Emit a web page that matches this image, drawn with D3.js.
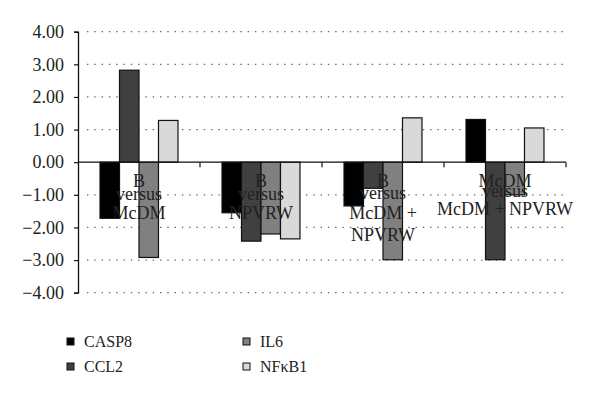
<!DOCTYPE html>
<html>
<head>
<meta charset="utf-8">
<script src="https://cdn.jsdelivr.net/npm/d3@7"></script>
<style>
  body { margin: 0; background: #fff; }
  text { font-family: "Liberation Serif", "DejaVu Serif", serif; fill: #222; }
</style>
</head>
<body>
<div id="graphics"></div>
<script>
// chart data
const categories = ["B versus McDM", "B versus NPVRW", "B versus McDM + NPVRW", "McDM versus McDM + NPVRW"];
const categoryLines = [
    ["B", "versus", "McDM"],
    ["B", "versus", "NPVRW"],
    ["B", "versus", "McDM +", "NPVRW"],
    ["McDM", "versus", "McDM + NPVRW"]
];
const seriesNames = ["CASP8", "CCL2", "IL6", "NF\u03baB1"];
const casp8 = [-1.72, -1.55, -1.34, 1.31];
const ccl2 = [2.82, -2.42, -0.8, -2.99];
const il6 = [-2.92, -2.2, -2.99, -1.0];
const nfkb1 = [1.28, -2.35, 1.36, 1.05];
const yTicks = [4, 3, 2, 1, 0, -1, -2, -3, -4];
const colors = ["#000000", "#404040", "#808080", "#d9d9d9"];

const seriesValues = [casp8, ccl2, il6, nfkb1];

const chartW = 600, chartH = 399;
const plotLeft = 78, plotRight = 566, plotTop = 31.7, plotBottom = 292.7;

let svg = d3.select("#graphics")
    .append("svg")
    .attr("width", chartW)
    .attr("height", chartH);

let y = d3.scaleLinear().domain([-4, 4]).range([plotBottom, plotTop]);
let x0 = d3.scaleBand().domain(categories).range([plotLeft, plotRight]).padding(0);
let x1 = d3.scaleBand().domain(seriesNames).range([0, x0.bandwidth()]).paddingInner(0).paddingOuter(1.13);

// dotted gridlines
svg.append("g")
    .selectAll("line")
    .data(yTicks.filter(d => d !== 0))
    .enter()
    .append("line")
    .attr("x1", plotLeft + 4)
    .attr("x2", plotRight - 2)
    .attr("y1", d => y(d))
    .attr("y2", d => y(d))
    .attr("stroke", "#666")
    .attr("stroke-width", 1.3)
    .attr("stroke-dasharray", "1.4 5.9")
    .attr("stroke-dashoffset", -5);

// bars
let groups = svg.append("g")
    .selectAll("g")
    .data(categories)
    .enter()
    .append("g")
    .attr("transform", d => "translate(" + x0(d) + ",0)");

groups.selectAll("rect")
    .data((d, i) => seriesNames.map((s, j) => ({ s: s, j: j, v: seriesValues[j][i] })))
    .enter()
    .append("rect")
    .attr("x", d => x1(d.s))
    .attr("width", x1.bandwidth())
    .attr("y", d => y(Math.max(0, d.v)))
    .attr("height", d => Math.abs(y(d.v) - y(0)))
    .attr("fill", d => colors[d.j])
    .attr("stroke", "#111")
    .attr("stroke-width", 1.2);

// y axis
let yAxis = d3.axisLeft(y)
    .tickValues(yTicks)
    .tickSize(4)
    .tickPadding(10)
    .tickFormat(d3.format(".2f"));
let gy = svg.append("g")
    .attr("transform", "translate(" + plotLeft + ",0)")
    .call(yAxis);
gy.select(".domain").attr("stroke", "#111").attr("stroke-width", 1.3);
gy.selectAll(".tick line").attr("stroke", "#111").attr("stroke-width", 1.2);
gy.selectAll(".tick text")
    .style("font-family", "Liberation Serif, serif")
    .style("font-size", "18px")
    .attr("fill", "#222");

// zero line with boundary ticks
svg.append("line")
    .attr("x1", plotLeft).attr("x2", plotRight)
    .attr("y1", y(0)).attr("y2", y(0))
    .attr("stroke", "#111").attr("stroke-width", 1.3);
svg.append("g")
    .selectAll("line")
    .data(categories)
    .enter()
    .append("line")
    .attr("x1", d => x0(d) + x0.bandwidth())
    .attr("x2", d => x0(d) + x0.bandwidth())
    .attr("y1", y(0))
    .attr("y2", y(0) + 5)
    .attr("stroke", "#111")
    .attr("stroke-width", 1.2);

// category labels (they spill over the bars like the original)
const lineOffsets = [[0, 13, 31.5], [0, 13, 31.5], [0, 12, 32, 54], [0, 9.5, 27.5]];
categories.forEach((c, i) => {
    let t = svg.append("text")
        .attr("text-anchor", "middle")
        .style("font-size", "18px");
    categoryLines[i].forEach((ln, k) => {
        t.append("tspan")
            .attr("x", x0(c) + x0.bandwidth() / 2)
            .attr("y", y(0) + 25 + lineOffsets[i][k])
            .text(ln);
    });
});

// legend
let legend = svg.append("g")
    .selectAll("g")
    .data(seriesNames)
    .enter()
    .append("g")
    .attr("transform", (d, i) => "translate(" + (i < 2 ? 67 : 243) + "," + (338 + (i % 2) * 25) + ")");
legend.append("rect")
    .attr("width", 7).attr("height", 7)
    .attr("fill", (d, i) => colors[i])
    .attr("stroke", "#111")
    .attr("stroke-width", 1);
legend.append("text")
    .attr("x", 17)
    .attr("y", 8.5)
    .style("font-size", "16px")
    .text(d => d);
</script>
</body>
</html>
